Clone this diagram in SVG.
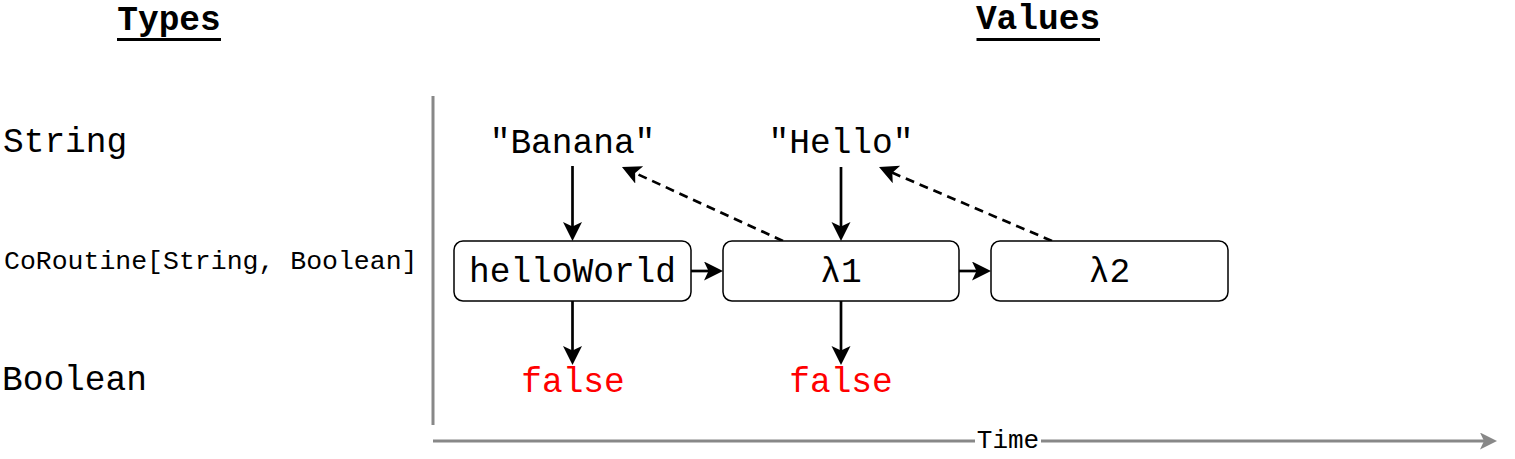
<svg xmlns="http://www.w3.org/2000/svg" width="1515" height="459" viewBox="0 0 1515 459">
  <style>
    .mono { font-family: "Liberation Mono", "Courier New", monospace; }
    .big { font-size: 34.5px; }
    .small { font-size: 26.5px; }
    .title { font-weight: bold; text-anchor: middle; }
    .val { text-anchor: middle; fill: #000; }
    .red { fill: #FF0000; }
    .box { fill: #fff; stroke: #000; stroke-width: 1.5; }
    .conn { stroke: #000; stroke-width: 2.7; fill: none; }
    .dash { stroke-dasharray: 9 6; }
    .axis { stroke: #888; stroke-width: 3; fill: none; }
  </style>
  <defs>
    <marker id="arr" markerUnits="userSpaceOnUse" markerWidth="22" markerHeight="22" refX="14" refY="9.5" orient="auto">
      <path d="M0,0 L19,9.5 L0,19 L4.5,9.5 Z" fill="#000"/>
    </marker>
    <marker id="garr" markerUnits="userSpaceOnUse" markerWidth="20" markerHeight="20" refX="13" refY="8.5" orient="auto">
      <path d="M0,0 L17,8.5 L0,17 L4,8.5 Z" fill="#888"/>
    </marker>
  </defs>
  <rect width="1515" height="459" fill="#fff"/>

  <g id="titles">
    <text class="mono big title" x="169" y="30">Types</text>
    <line x1="117" y1="39.5" x2="221" y2="39.5" stroke="#000" stroke-width="3"/>
    <text class="mono big title" x="1038" y="29">Values</text>
    <line x1="976.5" y1="39.5" x2="1100" y2="39.5" stroke="#000" stroke-width="3"/>
  </g>

  <g id="type-labels">
    <text id="t-string" class="mono big" x="3" y="152">String</text>
    <text id="t-coroutine" class="mono small" x="4" y="269">CoRoutine[String, Boolean]</text>
    <text id="t-boolean" class="mono big" x="2" y="390">Boolean</text>
  </g>

  <g id="axes">
    <line class="axis" x1="433" y1="96" x2="433" y2="425"/>
    <line class="axis" x1="433" y1="441" x2="1493" y2="441" marker-end="url(#garr)"/>
    <rect x="975" y="429" width="66" height="22" fill="#fff"/>
    <text class="mono" font-size="26" x="1008" y="448" text-anchor="middle">Time</text>
  </g>

  <g id="connectors">
    <line class="conn" x1="572.5" y1="166" x2="572.5" y2="236" marker-end="url(#arr)"/>
    <line class="conn" x1="841" y1="167" x2="841" y2="236" marker-end="url(#arr)"/>
    <line class="conn" x1="691" y1="271" x2="718" y2="271" marker-end="url(#arr)"/>
    <line class="conn" x1="959" y1="271" x2="986" y2="271" marker-end="url(#arr)"/>
    <line class="conn" x1="572.5" y1="301" x2="572.5" y2="360" marker-end="url(#arr)"/>
    <line class="conn" x1="841" y1="301" x2="841" y2="360" marker-end="url(#arr)"/>
    <line class="conn dash" x1="783" y1="241" x2="626.5" y2="169.1" marker-end="url(#arr)"/>
    <line class="conn dash" x1="1052" y1="241" x2="883.6" y2="169" marker-end="url(#arr)"/>
  </g>

  <g id="banana">
    <text class="mono big val" x="572.5" y="153">"Banana"</text>
  </g>
  <g id="hello">
    <text class="mono big val" x="841" y="153">"Hello"</text>
  </g>
  <g id="helloWorld">
    <rect class="box" x="454" y="241" width="237" height="60" rx="9"/>
    <text class="mono big val" x="572.5" y="282">helloWorld</text>
  </g>
  <g id="lambda1">
    <rect class="box" x="723" y="241" width="236" height="60" rx="9"/>
    <text class="mono big val" x="841" y="282">λ1</text>
  </g>
  <g id="lambda2">
    <rect class="box" x="991" y="241" width="237" height="60" rx="9"/>
    <text class="mono big val" x="1109.5" y="282">λ2</text>
  </g>
  <g id="false1">
    <text class="mono big val red" x="573" y="391.5">false</text>
  </g>
  <g id="false2">
    <text class="mono big val red" x="841" y="391.5">false</text>
  </g>
</svg>
